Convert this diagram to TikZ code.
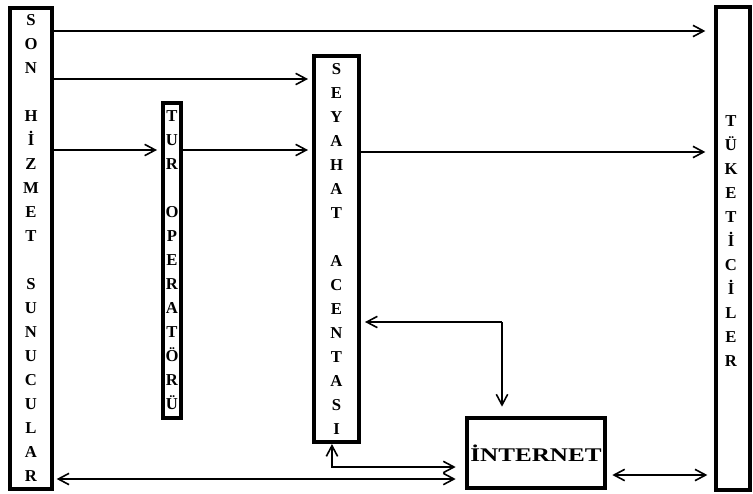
\documentclass[tikz,border=0pt]{standalone}
\usepackage{fontspec}
\setmainfont{Liberation Serif}
\usetikzlibrary{arrows.meta}

\begin{document}
\begin{tikzpicture}[x=0.75pt, y=-0.75pt,
  column/.style={rectangle, draw, line width=3pt, inner sep=0pt, align=center, font=\bfseries\fontsize{12.5}{18}\selectfont},
  arrow/.style={line width=1.2pt, -{Straight Barb[length=8pt,width=8.5pt]}, shorten >=3pt},
  twoway/.style={arrow, {Straight Barb[length=8pt,width=8.5pt]}-{Straight Barb[length=8pt,width=8.5pt]}}]

  \useasboundingbox (0,0) rectangle (753,493);

  % columns
  \node[column, minimum width=31.5pt, minimum height=360.75pt] (son) at (31,248) {S\\O\\N\\~\\H\\İ\\Z\\M\\E\\T\\~\\S\\U\\N\\U\\C\\U\\L\\A\\R};
  \node[column, minimum width=13.5pt, minimum height=236.25pt] (tur) at (172,260.5) {T\\U\\R\\~\\O\\P\\E\\R\\A\\T\\Ö\\R\\Ü};
  \node[column, minimum width=33.75pt, minimum height=289.5pt] (acenta) at (336.5,249) {S\\E\\Y\\A\\H\\A\\T\\~\\A\\C\\E\\N\\T\\A\\S\\I};
  \node[column, minimum width=25.5pt, minimum height=362.25pt] (tuketici) at (733,248.5) {};
  \node[column, draw=none] (tuketicitext) at (731,241.5) {T\\Ü\\K\\E\\T\\İ\\C\\İ\\L\\E\\R};
  \node[column, font=\bfseries\fontsize{14.5}{18}\selectfont, minimum width=103.5pt, minimum height=52.5pt] (inet) at (536,453) {\scalebox{1.3}[1]{İNTERNET}};

  % connectors
  \draw[arrow, shorten >=6.5pt] (son.east |- 0,31) -- (tuketici.west |- 0,31);
  \draw[arrow] (son.east |- 0,79) -- (acenta.west |- 0,79);
  \draw[arrow] (son.east |- 0,150) -- (tur.west |- 0,150);
  \draw[arrow] (tur.east |- 0,150) -- (acenta.west |- 0,150);
  \draw[arrow, shorten >=6.5pt] (acenta.east |- 0,152) -- (tuketici.west |- 0,152);
  \coordinate (split) at (502,322);
  \draw[arrow] (split) -- (acenta.east |- split);
  \draw[arrow, shorten >=7pt] (split) -- (inet.north -| split);
  \draw[twoway, shorten >=7pt] ([xshift=-3.4pt]acenta.south) |- (inet.west |- 0,467);
  \draw[twoway, shorten <=2pt, shorten >=7pt] (son.east |- 0,479) -- (inet.west |- 0,479);
  \draw[twoway, shorten <=4pt, shorten >=5pt] (inet.east |- 0,475) -- (tuketici.west |- 0,475);

\end{tikzpicture}
\end{document}
